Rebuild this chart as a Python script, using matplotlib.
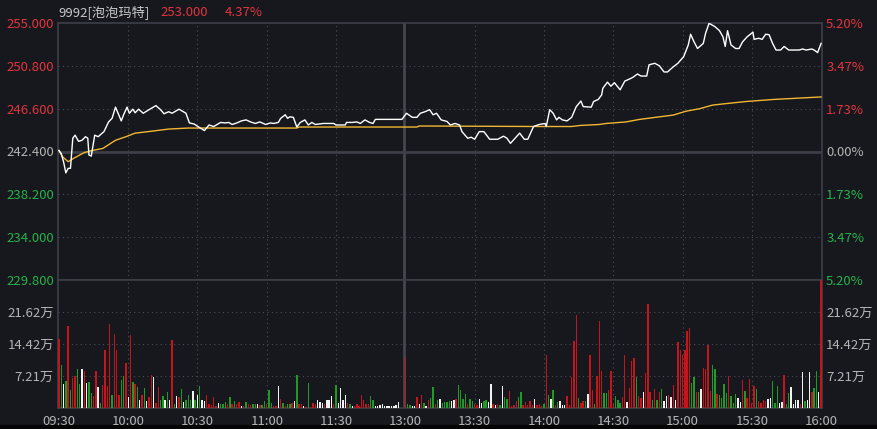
import matplotlib
matplotlib.use('Agg')
import matplotlib.pyplot as plt
from matplotlib.patches import Rectangle

plt.rcParams['font.family'] = ['Noto Sans CJK SC', 'DejaVu Sans']

# ---------------- data ----------------
stock_title = "9992[泡泡玛特]"
last_price = "253.000"
last_change = "4.37%"
prev_close = 242.4

time_ticks = [0, 30, 60, 90, 120, 150, 180, 210, 240, 270, 300, 330]
time_labels = ["09:30", "10:00", "10:30", "11:00", "11:30", "13:00",
               "13:30", "14:00", "14:30", "15:00", "15:30", "16:00"]

price_ticks = [229.8, 234.0, 238.2, 242.4, 246.6, 250.8, 255.0]
pct_labels = ["5.20%", "3.47%", "1.73%", "0.00%", "1.73%", "3.47%", "5.20%"]
vol_ticks = [7.21, 14.42, 21.62]
vol_labels = ["7.21万", "14.42万", "21.62万"]

price_min = [0, 1, 2, 3, 4, 5, 6, 7, 8.5, 10, 11.5, 12.5, 13, 14, 15.5, 17, 19.5, 21.5, 23, 24.5,
             27, 28, 29.5, 30.5, 32, 33, 34.5, 36.5, 39, 42, 44, 45.5, 47.5, 49, 52, 55, 56.5, 58.5,
             60.5, 63, 65, 67, 70, 72, 73.5, 75, 77, 79, 81, 83, 85, 87, 89.5, 91.5, 93, 95, 96, 98,
             99, 100, 101.5, 103, 104.5, 106.5, 108, 109.5, 111, 114.5, 119, 120, 124, 124.5, 127,
             129, 130.5, 132.5, 134.5, 136, 137, 148.5, 150.5, 153, 155, 156.5, 158.5, 160.5, 162,
             163.5, 165.5, 168, 169.5, 171.5, 173.5, 174.5, 177, 178.5, 180, 182, 184, 186.5, 190,
             192.5, 194, 195.5, 197.5, 199.5, 201.5, 203, 205.5, 208, 210.5, 211, 212.5, 214, 215.5,
             216.5, 218, 220, 222, 224, 226, 227, 230.5, 231.5, 233.5, 235, 235.5, 237.5, 239, 240.5,
             243, 245, 247, 248.5, 250.5, 252, 254.5, 255.5, 258, 260, 262, 263.5, 266, 268, 270.5,
             272.5, 273.5, 275, 276.5, 279, 280, 281.5, 284, 286, 287.5, 288.5, 289.5, 291, 293,
             294.5, 296, 298, 300.5, 301, 303, 304.5, 306, 307.5, 309, 310.5, 312.5, 314, 316, 320.5,
             322, 323.5, 326, 327, 328.5, 330]
price_val = [242.5, 242.2, 241.4, 240.3, 240.75, 240.75, 243.7, 244.0, 243.4, 243.5, 243.85, 243.7,
             242.05, 241.95, 244.0, 243.85, 244.35, 245.3, 245.65, 246.75, 245.4, 246.0, 246.75,
             246.15, 246.55, 246.2, 246.55, 246.15, 246.5, 246.9, 246.5, 246.1, 246.3, 246.15,
             246.55, 246.15, 245.2, 245.1, 244.8, 244.45, 245.0, 244.85, 245.25, 245.2, 245.25,
             245.05, 245.2, 245.4, 245.5, 245.3, 245.15, 245.3, 245.05, 245.2, 245.15, 245.25,
             245.65, 246.0, 245.65, 245.8, 245.75, 244.8, 245.25, 245.5, 245.0, 245.25, 245.05,
             245.15, 245.15, 245.0, 245.0, 245.25, 245.25, 245.3, 245.15, 245.5, 245.25, 245.15,
             245.55, 245.55, 246.15, 245.75, 245.75, 246.15, 246.3, 246.5, 246.0, 246.15, 245.5,
             245.35, 245.0, 245.15, 245.0, 244.35, 243.7, 243.8, 243.6, 244.35, 244.35, 243.6,
             243.6, 243.9, 243.7, 243.2, 243.7, 244.2, 243.6, 243.6, 244.85, 245.05, 245.15, 244.85,
             246.5, 246.15, 245.5, 245.75, 245.5, 245.4, 245.75, 246.8, 247.35, 246.8, 246.75,
             247.3, 247.5, 247.95, 248.6, 249.2, 248.8, 249.15, 248.45, 249.3, 249.5, 249.67, 250.0,
             249.8, 249.8, 250.9, 251.05, 250.8, 250.2, 250.2, 250.7, 251.05, 251.7, 252.85, 253.9,
             253.15, 252.5, 253.0, 254.0, 254.97, 254.65, 254.25, 253.65, 252.7, 254.25, 252.85,
             252.5, 252.5, 253.15, 253.65, 254.1, 253.4, 253.5, 253.4, 253.9, 253.85, 253.0,
             252.35, 252.35, 252.7, 252.35, 252.35, 252.45, 252.35, 252.45, 252.35, 252.1, 253.0]

avg_min = [0, 1.5, 4, 6.5, 11, 14.5, 19, 24.5, 29, 33, 40.5, 47.5, 56, 103, 104, 155, 156, 208,
           222, 225.5, 234, 237, 245.5, 251.5, 260, 266, 271.5, 277.5, 283, 289, 297.5, 309,
           317.5, 330]
avg_val = [242.5, 241.9, 241.4, 241.75, 242.3, 242.5, 242.7, 243.5, 243.85, 244.2, 244.4, 244.6,
           244.7, 244.7, 244.8, 244.8, 244.9, 244.85, 244.85, 244.95, 245.05, 245.15, 245.3,
           245.55, 245.8, 245.97, 246.35, 246.6, 246.95, 247.1, 247.3, 247.5, 247.6, 247.75]

# volume per minute (万), colour code: r = up, g = down, w = unchanged
vol_val = [
    15.5, 9.6, 5.4, 6.0, 18.4, 4.0, 6.8, 7.1, 8.8, 5.4,
    8.8, 8.4, 5.6, 5.9, 3.4, 2.6, 8.4, 4.7, 1.1, 5.1,
    13.1, 4.9, 19.0, 2.9, 16.7, 13.1, 2.9, 6.2, 7.1, 10.1,
    2.5, 16.4, 5.9, 5.3, 4.7, 1.7, 2.9, 4.5, 1.5, 2.5,
    7.5, 6.9, 1.1, 4.7, 1.7, 2.6, 1.9, 3.5, 1.9, 15.4,
    0.8, 2.8, 2.4, 4.3, 1.4, 1.9, 2.9, 1.7, 3.8, 1.9,
    2.9, 4.9, 1.9, 1.5, 3.0, 0.8, 0.6, 2.4, 0.4, 1.1,
    0.8, 1.0, 1.3, 0.8, 2.5, 0.8, 1.5, 0.8, 1.4, 0.5,
    0.5, 1.4, 0.8,
    0.6, 1.0, 1.0, 1.0, 0.6, 0.6, 1.5, 0.8, 4.0, 1.1,
    0.4, 0.4, 4.9, 2.1, 1.1, 0.4, 0.9, 0.8, 1.1, 1.5,
    7.4, 1.0, 1.0, 0.4, 0.2, 5.6, 0.2, 1.1, 0.8, 1.7,
    1.4, 1.1, 0.8, 1.7, 1.7, 2.6, 0.8, 5.1, 1.1, 4.5,
    1.7, 2.9, 1.1, 1.0, 0.4, 0.4, 0.8, 0.4, 2.9, 1.7,
    0.8, 0.8, 2.6, 1.7, 0.4, 0.4, 0.6, 0.8, 0.4, 0.4,
    0.4, 0.4, 0.4, 0.6, 1.3,
    0.0, 0.0,
    11.6,
    0.8, 0.6, 0.4, 0.4, 2.4, 0.8, 2.9, 1.1, 0.4, 1.7, 2.3, 4.7, 0.8, 1.9,
    2.0, 1.1, 1.3, 1.3, 1.5, 1.5, 1.7, 2.0, 5.1, 4.0,
    2.0, 3.2, 1.0, 2.0, 1.5, 1.0, 0.6, 2.1, 1.1, 1.5,
    1.7, 1.3, 5.5, 0.9, 0.75, 1.0, 0.75, 4.9, 2.5, 2.1,
    3.9, 0.5, 0.75, 1.5, 2.4, 3.6, 0.75, 1.3, 0.75, 1.5,
    0.75, 2.1, 0.75, 0.9, 0.4, 0.9, 11.9, 3.0, 2.0, 4.1,
    0.75, 1.4, 1.5, 0.75, 0.6, 2.6, 0.75, 6.9, 15.2, 21.0,
    2.3, 1.1, 1.5, 1.5, 3.2, 12.0, 4.0, 1.0, 7.3, 19.5,
    8.3, 3.4, 3.4, 4.1, 8.4, 0.9, 2.6, 1.7, 1.1, 2.4,
    12.0,
    1.4, 4.5, 10.5, 11.3, 7.0, 2.6, 2.3, 3.5, 7.9, 23.5,
    3.6, 1.9, 4.3, 1.9, 3.6, 4.3, 1.5, 2.6, 2.9, 2.5,
    5.1, 1.7, 14.9, 13.1, 11.9, 13.1, 17.3, 18.0, 5.6, 7.0,
    3.6, 3.6, 4.3, 9.0, 8.8, 14.1, 3.8, 9.8, 8.8, 3.2,
    3.0, 2.3, 5.3, 3.4, 7.3, 2.6, 1.1, 3.2, 2.3, 1.4,
    6.2, 3.8, 2.3, 6.6, 1.1, 4.9, 4.3, 1.5, 1.1, 1.7,
    1.5, 2.0, 2.3, 6.0, 1.1, 4.9, 1.1, 1.3, 7.5, 0.9,
    3.4, 4.7, 0.9, 1.9, 1.9, 0.8, 8.0, 1.5, 1.9, 8.0,
    3.5, 4.5, 8.3, 3.5, 30.0,
]
vol_col_rows = [
    "rgwgrgrrgg", "wrwggrrwgr", "rrrgrrrggr", "wrgrgwrgwr", "rwrrggwgwr",
    "gwrgwgggwg", "wgwwrrrrrw", "gggrgrgrrw", "rgr",
    "rggwrggrgg", "rrwrgrggrw", "grrwrgrrrw", "wwrwwwrgww", "wwrgwrrrrr",
    "rrggwwwwww", "wwwww",
    "ww",
    "r",
    "ggwwrwrgwrggrg",
    "wggggwwrgg", "ggrggrrwwg", "gwwrwrgwgg", "rrrrggrrrr", "rwrrrgrgwg",
    "rgwwwrrrrr", "grrgwrrgrr", "rggrrrgggr",
    "r",
    "wrrrgrrwrr", "rgrgrgwwrw", "rwrrrrrrgg", "rgwrrrrggr", "ggggrgggww",
    "rgrrrrgrrr", "rwwgggwwrg", "gwwwwrwgww", "rggwr",
]
vol_col = "".join(vol_col_rows)
col_map = {'r': '#c3161c', 'g': '#1f9a26', 'w': '#f2f2f2'}

# ---------------- style ----------------
BG = '#16181e'
GRID = '#4a4d56'
SOLID = '#3c3f47'
RED = '#e3343c'
GREEN = '#27b24a'
GRAY = '#b4b4b4'
FS = 9.5

W, H = 878, 429
fig = plt.figure(figsize=(W / 100, H / 100), dpi=100)
fig.patch.set_facecolor(BG)
fig.patches.append(Rectangle((0, 0), 1, 4 / H, transform=fig.transFigure,
                             color='#050505', zorder=-1))

L, Rr = 58 / W, 822 / W
axp = fig.add_axes([L, 149 / H, Rr - L, 257 / H])
axv = fig.add_axes([L, 21 / H, Rr - L, 128 / H], sharex=axp)

for ax in (axp, axv):
    ax.set_facecolor(BG)
    for s in ax.spines.values():
        s.set_color(SOLID)
        s.set_linewidth(1.2)
    ax.set_xlim(-0.4, 330.4)
    for t in time_ticks[1:-1]:
        if t == 150:
            ax.axvline(t - 0.5, color='#44474f', lw=2.0, zorder=0.5)
        else:
            ax.axvline(t, color=GRID, lw=0.8, ls=(0, (1, 3)), zorder=0.5)

# price panel
axp.set_ylim(price_ticks[0], price_ticks[-1])
for p in price_ticks[1:-1]:
    if p == prev_close:
        axp.axhline(p, color=SOLID, lw=2.0, zorder=1)
    else:
        axp.axhline(p, color=GRID, lw=0.8, ls=(0, (1, 3)), zorder=1)
axp.plot(avg_min, avg_val, color='#f2b632', lw=1.0, zorder=3)
axp.plot(price_min, price_val, color='#ffffff', lw=1.0, zorder=4)

axp.set_yticks(price_ticks)
axp.set_yticklabels([f"{p:.3f}" for p in price_ticks])
axp.tick_params(axis='y', length=0, pad=3, labelsize=FS)
axp.tick_params(axis='x', length=0, labelbottom=False)
for lab, p in zip(axp.get_yticklabels(), price_ticks):
    lab.set_color(GREEN if p < prev_close else (GRAY if p == prev_close else RED))

axr = axp.twinx()
axr.set_ylim(axp.get_ylim())
axr.set_yticks(price_ticks)
axr.set_yticklabels(pct_labels)
axr.tick_params(axis='y', length=0, pad=3, labelsize=FS)
for s in axr.spines.values():
    s.set_visible(False)
for lab, p in zip(axr.get_yticklabels(), price_ticks):
    lab.set_color(GREEN if p < prev_close else (GRAY if p == prev_close else RED))

# volume panel
axv.set_ylim(0, 28.84)
for v in vol_ticks:
    axv.axhline(v, color=GRID, lw=0.8, ls=(0, (1, 3)), zorder=1)
n = min(len(vol_val), len(vol_col))
xs = list(range(n))
axv.bar(xs, vol_val[:n], width=0.6, color=[col_map[c] for c in vol_col[:n]],
        linewidth=0, zorder=5, antialiased=False)
axv.set_yticks(vol_ticks)
axv.set_yticklabels(vol_labels)
axv.tick_params(axis='y', length=0, pad=3, labelsize=FS, labelcolor=GRAY,
                labelright=True)
axv.set_xticks(time_ticks)
axv.set_xticklabels(time_labels)
axv.tick_params(axis='x', length=0, pad=5, labelsize=FS, labelcolor=GRAY)

# title
fig.text(58 / W, 1 - 12 / H, stock_title, color='#c8c8c8', fontsize=FS, va='center', ha='left')
fig.text(160 / W, 1 - 12 / H, last_price, color=RED, fontsize=FS, va='center', ha='left')
fig.text(225 / W, 1 - 12 / H, last_change, color=RED, fontsize=FS, va='center', ha='left')

fig.savefig('out.png', dpi=100, facecolor=BG)
